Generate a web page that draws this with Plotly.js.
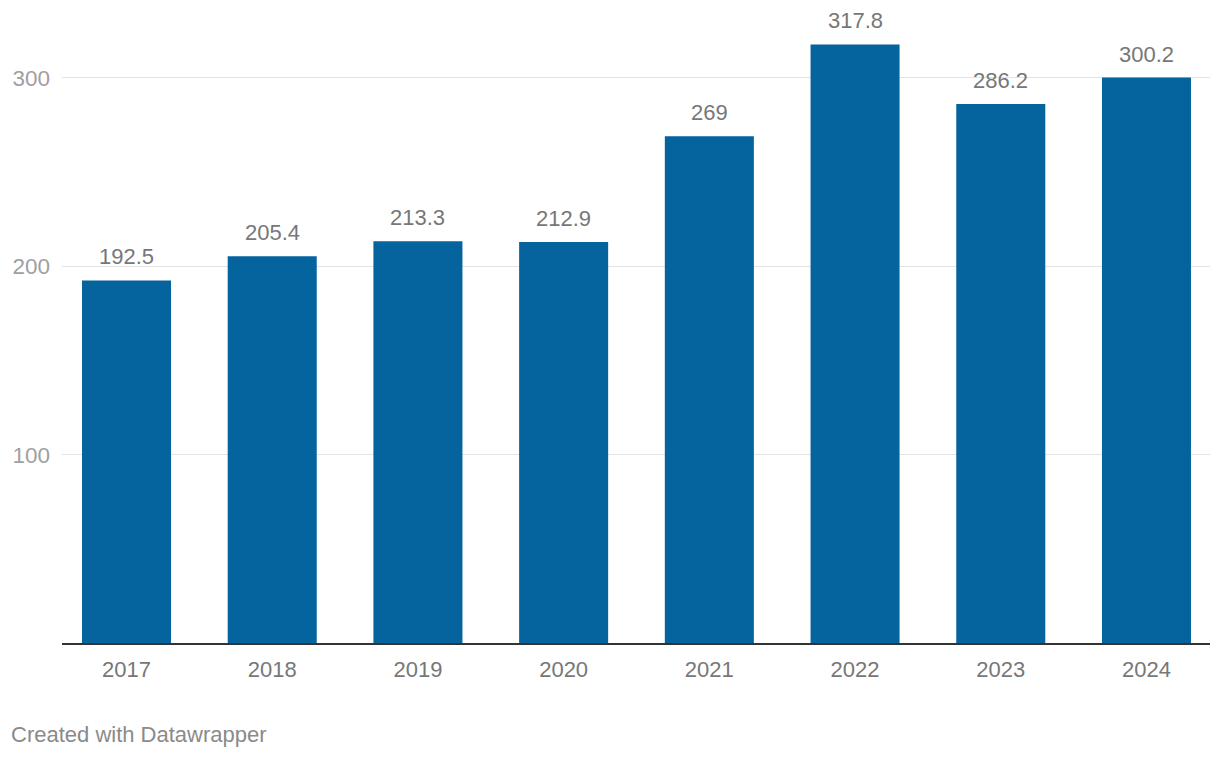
<!DOCTYPE html>
<html>
<head>
<meta charset="utf-8">
<script src="https://cdn.plot.ly/plotly-3.0.1.min.js"></script>
<style>html,body{margin:0;padding:0;background:#fff;}#chart{width:1220px;height:758px;}</style>
</head>
<body>
<div id="chart"></div>
<script>
const years = ["2017","2018","2019","2020","2021","2022","2023","2024"];
const values = [192.5, 205.4, 213.3, 212.9, 269, 317.8, 286.2, 300.2];
const labels = ["192.5","205.4","213.3","212.9","269","317.8","286.2","300.2"];
const yTicks = [100, 200, 300];
const yTickText = ["100", "200", "300"];

const font = "Liberation Sans, Arial, Helvetica, sans-serif";

const trace = {
  type: "bar",
  x: years,
  y: values,
  marker: {color: "#05639e"},
  hoverinfo: "skip"
};

const annotations = years.map((yr, i) => ({
  x: i, y: values[i], xref: "x", yref: "y",
  text: labels[i], showarrow: false,
  xanchor: "center", yanchor: "bottom", yshift: 9,
  font: {family: font, size: 22, color: "#777777"}
}));
annotations.push({
  xref: "paper", yref: "paper", x: -(62-9)/1148, y: -(735-643.5)/613.5,
  xanchor: "left", yanchor: "middle", showarrow: false,
  text: "Created with Datawrapper",
  font: {family: font, size: 22, color: "#8a8a8a"}
});

const layout = {
  width: 1220, height: 758,
  margin: {l: 62, r: 10, t: 30, b: 114.5},
  paper_bgcolor: "#ffffff", plot_bgcolor: "#ffffff",
  bargap: 0.389,
  showlegend: false,
  xaxis: {
    type: "category",
    range: [-0.4427, 7.436],
    showgrid: false, zeroline: false,
    showline: true, linecolor: "#333333", linewidth: 2,
    ticks: "", ticklabelstandoff: 6,
    tickfont: {family: font, size: 22, color: "#777777"},
    fixedrange: true
  },
  yaxis: {
    range: [0, 325.46],
    tickvals: yTicks, ticktext: yTickText,
    showgrid: true, gridcolor: "#e3e3e3", gridwidth: 1,
    zeroline: false, showline: false,
    ticks: "", ticklabelstandoff: 11,
    tickfont: {family: font, size: 22.5, color: "#a0a0a0"},
    fixedrange: true
  },
  annotations: annotations
};

Plotly.newPlot("chart", [trace], layout, {displayModeBar: false, staticPlot: true});
</script>
</body>
</html>
